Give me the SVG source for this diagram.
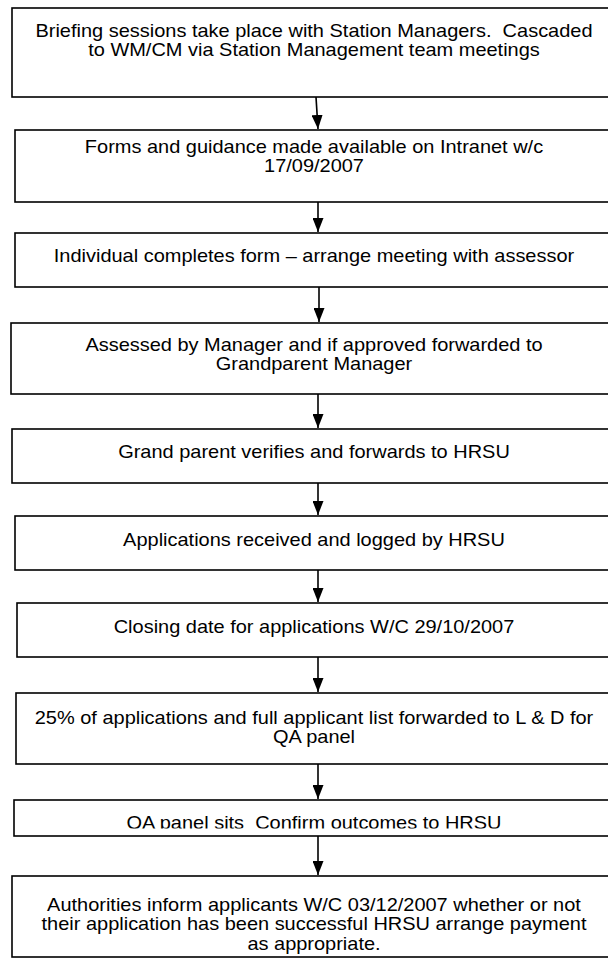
<svg xmlns="http://www.w3.org/2000/svg" width="608" height="976" viewBox="0 0 608 976">
  <style>
    .box { fill: #ffffff; stroke: #000000; stroke-width: 1.6; }
    .lbl { font-family: "Liberation Sans", Arial, sans-serif; font-size: 18px; fill: #000000; text-anchor: middle; white-space: pre; }
    .conn line { stroke: #000000; stroke-width: 1.6; }
  </style>
  <defs>
    <!-- solid triangular head, pointing along the line -->
    <marker id="arrow" viewBox="0 0 14 11" refX="14" refY="5.5" markerWidth="14" markerHeight="11" markerUnits="userSpaceOnUse" orient="auto">
      <path d="M0,0 L14,5.5 L0,11 Z" fill="#000000"/>
    </marker>
    <clipPath id="clip-qa">
      <rect x="0" y="800" width="608" height="28.5"/>
    </clipPath>
  </defs>
  <rect width="608" height="976" fill="#ffffff"/>

  <!-- steps, top to bottom; each box runs past the right edge -->
  <g id="step-briefing">
    <rect class="box" x="12" y="8" width="606" height="89"/>
    <g transform="matrix(1.11 0 0 1 -34.54 0)">
      <text class="lbl" x="314" y="37">Briefing sessions take place with Station Managers.  Cascaded</text>
      <text class="lbl" x="314" y="56">to WM/CM via Station Management team meetings</text>
    </g>
  </g>
  <g id="step-forms">
    <rect class="box" x="15" y="130" width="603" height="72"/>
    <g transform="matrix(1.11 0 0 1 -34.54 0)">
      <text class="lbl" x="314" y="153">Forms and guidance made available on Intranet w/c</text>
      <text class="lbl" x="314" y="172">17/09/2007</text>
    </g>
  </g>
  <g id="step-individual">
    <rect class="box" x="15" y="233" width="603" height="54"/>
    <g transform="matrix(1.11 0 0 1 -34.54 0)">
      <text class="lbl" x="314" y="262">Individual completes form – arrange meeting with assessor</text>
    </g>
  </g>
  <g id="step-assessed">
    <rect class="box" x="11" y="323" width="607" height="71"/>
    <g transform="matrix(1.11 0 0 1 -34.54 0)">
      <text class="lbl" x="314" y="351">Assessed by Manager and if approved forwarded to</text>
      <text class="lbl" x="314" y="370">Grandparent Manager</text>
    </g>
  </g>
  <g id="step-grandparent">
    <rect class="box" x="12" y="429" width="606" height="54"/>
    <g transform="matrix(1.11 0 0 1 -34.54 0)">
      <text class="lbl" x="314" y="458">Grand parent verifies and forwards to HRSU</text>
    </g>
  </g>
  <g id="step-received">
    <rect class="box" x="15" y="516" width="603" height="54"/>
    <g transform="matrix(1.11 0 0 1 -34.54 0)">
      <text class="lbl" x="314" y="546">Applications received and logged by HRSU</text>
    </g>
  </g>
  <g id="step-closing">
    <rect class="box" x="17" y="603" width="601" height="54"/>
    <g transform="matrix(1.11 0 0 1 -34.54 0)">
      <text class="lbl" x="314" y="633">Closing date for applications W/C 29/10/2007</text>
    </g>
  </g>
  <g id="step-sample">
    <rect class="box" x="16" y="693" width="602" height="71"/>
    <g transform="matrix(1.11 0 0 1 -34.54 0)">
      <text class="lbl" x="314" y="724">25% of applications and full applicant list forwarded to L &amp; D for</text>
      <text class="lbl" x="314" y="743">QA panel</text>
    </g>
  </g>
  <g id="step-panel">
    <rect class="box" x="14" y="800" width="604" height="36"/>
    <g clip-path="url(#clip-qa)">
      <g transform="matrix(1.11 0 0 1 -34.54 0)">
        <text class="lbl" x="314" y="829.5">QA panel sits  Confirm outcomes to HRSU</text>
      </g>
    </g>
  </g>
  <g id="step-inform">
    <rect class="box" x="12" y="876" width="606" height="81"/>
    <g transform="matrix(1.11 0 0 1 -34.54 0)">
      <text class="lbl" x="314" y="911">Authorities inform applicants W/C 03/12/2007 whether or not</text>
      <text class="lbl" x="314" y="930">their application has been successful HRSU arrange payment</text>
      <text class="lbl" x="314" y="950">as appropriate.</text>
    </g>
  </g>

  <!-- connectors -->
  <g id="connectors" class="conn">
    <line x1="316" y1="97" x2="318" y2="129" marker-end="url(#arrow)"/>
    <line x1="318" y1="202" x2="318" y2="232" marker-end="url(#arrow)"/>
    <line x1="319" y1="287" x2="319" y2="322" marker-end="url(#arrow)"/>
    <line x1="318" y1="394" x2="318" y2="428" marker-end="url(#arrow)"/>
    <line x1="318" y1="483" x2="318" y2="515" marker-end="url(#arrow)"/>
    <line x1="318" y1="570" x2="318" y2="602" marker-end="url(#arrow)"/>
    <line x1="318" y1="657" x2="318" y2="692" marker-end="url(#arrow)"/>
    <line x1="318" y1="764" x2="318" y2="799" marker-end="url(#arrow)"/>
    <line x1="318" y1="836" x2="318" y2="875" marker-end="url(#arrow)"/>
  </g>
</svg>
